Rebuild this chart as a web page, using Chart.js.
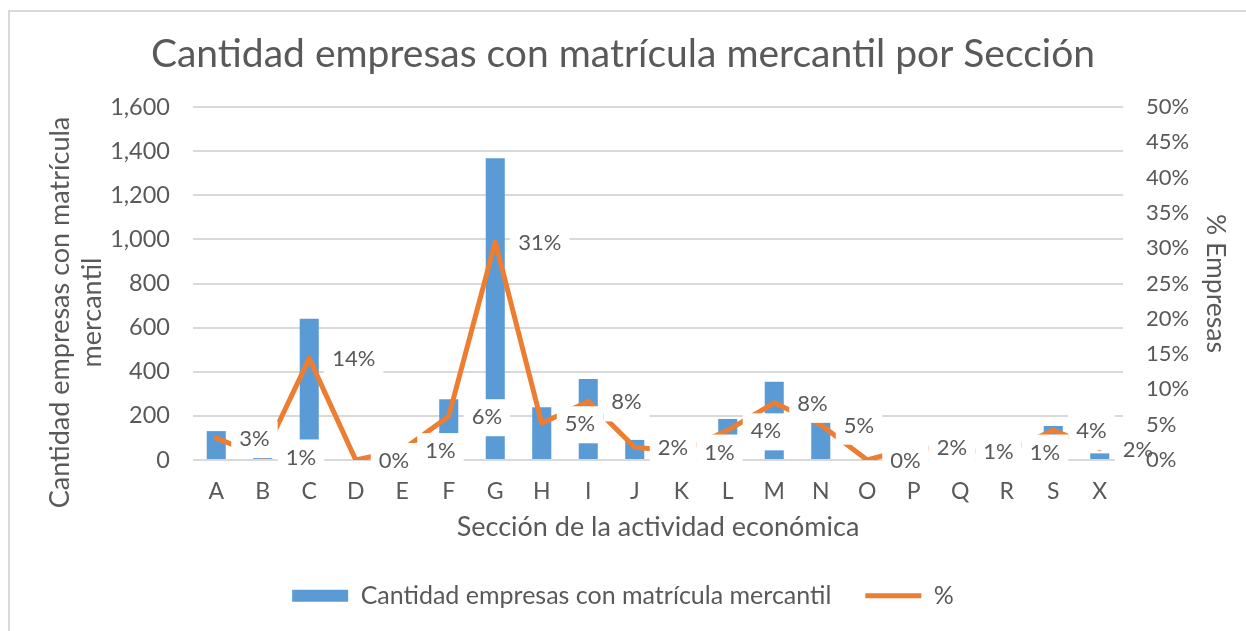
<!DOCTYPE html>
<html>
<head>
<meta charset="utf-8">
<script src="https://cdn.jsdelivr.net/npm/chart.js@4.4.1/dist/chart.umd.min.js"></script>
<style>
    body { margin: 0; background: #fff; }
    #wrap { position: relative; width: 1246px; height: 631px; overflow: hidden; }
    #frame { position: absolute; left: 8px; top: 10px; width: 1300px; height: 700px; border-left: 2px solid #d9d9d9; border-top: 2px solid #d9d9d9; }
    #seccion { position: absolute; left: 0; top: 0; }
</style>
</head>
<body>
<div id="wrap">
    <div id="frame"></div>
    <canvas id="seccion" width="1246" height="631"></canvas>
</div>
<script>
const categorias = ['A', 'B', 'C', 'D', 'E', 'F', 'G', 'H', 'I', 'J', 'K', 'L', 'M', 'N', 'O', 'P', 'Q', 'R', 'S', 'X'];
const empresas = [131, 12, 640, 0, 60, 275, 1368, 239, 367, 91, 50, 186, 355, 174, 0, 70, 55, 50, 154, 30];
const porcentaje = [3.1, 0.5, 14.4, 0, 1.4, 6.2, 30.9, 5.2, 8.3, 1.8, 1.2, 4.2, 8.1, 5.0, 0, 1.8, 1.3, 1.2, 4.2, 1.6];

const fuente = 'Lato';
const gris = '#595959';

// etiquetas de % con fondo blanco, a la derecha de cada punto
const etiquetas = {
    id: 'etiquetas',
    afterLayout(chart) {
        // el titulo del eje izquierdo va algo mas abajo que el centro del area
        const s = chart.scales.y;
        if (s._tituloMovido) return;
        const original = s.drawTitle;
        s.drawTitle = function () {
            this.ctx.save();
            this.ctx.translate(0, 29);
            original.call(this);
            this.ctx.restore();
        };
        s._tituloMovido = true;
    },
    afterDatasetsDraw(chart) {
        const ctx = chart.ctx;
        const area = chart.chartArea;
        const meta = chart.getDatasetMeta(1);
        ctx.save();
        ctx.font = '22px ' + fuente;
        ctx.textBaseline = 'middle';
        meta.data.forEach((pt, i) => {
            const txt = Math.round(porcentaje[i]) + '%';
            const w = ctx.measureText(txt).width;
            const x = pt.x + 23;
            const y = pt.y + 1;
            const x0 = x - 8;
            const x1 = Math.min(x + w + 8, area.right);
            ctx.fillStyle = '#fff';
            ctx.fillRect(x0, y - 18, x1 - x0, 37);
            ctx.fillStyle = gris;
            ctx.fillText(txt, x, y);
        });
        ctx.restore();
    }
};

new Chart(document.getElementById('seccion'), {
    data: {
        labels: categorias,
        datasets: [{
                type: 'bar',
                label: 'Cantidad empresas con matrícula mercantil',
                data: empresas,
                backgroundColor: '#5b9bd5',
                borderWidth: 0,
                barPercentage: 0.41,
                categoryPercentage: 1,
                pointStyle: 'rect',
                yAxisID: 'y',
                order: 1
            },
            {
                type: 'line',
                label: '%',
                data: porcentaje,
                borderColor: '#ed7d31',
                backgroundColor: '#ed7d31',
                borderWidth: 5,
                borderJoinStyle: 'round',
                borderCapStyle: 'round',
                pointRadius: 0,
                pointStyle: 'line',
                tension: 0,
                yAxisID: 'y1',
                order: 0
            }
        ]
    },
    options: {
        responsive: false,
        animation: false,
        devicePixelRatio: 1,
        layout: {
            padding: { left: 0, right: 0, top: 0, bottom: 12.8 }
        },
        plugins: {
            title: {
                display: true,
                text: 'Cantidad empresas con matrícula mercantil por Sección',
                color: gris,
                font: { family: fuente, size: 39, weight: 'normal' },
                padding: { top: 31, bottom: 29.2 }
            },
            legend: {
                position: 'bottom',
                labels: {
                    usePointStyle: true,
                    pointStyleWidth: 56,
                    boxHeight: 12,
                    padding: 34,
                    color: gris,
                    font: { family: fuente, size: 25 },
                    sort: (a, b) => a.datasetIndex - b.datasetIndex
                }
            },
            tooltip: { enabled: false }
        },
        scales: {
            x: {
                grid: { display: false, drawTicks: false },
                border: { display: false },
                ticks: { color: gris, padding: 18, font: { family: fuente, size: 23 } },
                title: {
                    display: true,
                    text: 'Sección de la actividad económica',
                    color: gris,
                    font: { family: fuente, size: 27 },
                    padding: { top: 0, bottom: 6 }
                },
                afterFit: s => { s.height = 89.2; }
            },
            y: {
                position: 'left',
                min: 0,
                max: 1600,
                ticks: {
                    stepSize: 200,
                    padding: 23,
                    color: gris,
                    font: { family: fuente, size: 23.5 },
                    callback: v => v.toLocaleString('en-US')
                },
                grid: { color: '#d9d9d9', lineWidth: 2, drawTicks: false },
                border: { display: false },
                title: {
                    display: true,
                    text: ['Cantidad empresas con matrícula', 'mercantil'],
                    color: gris,
                    font: { family: fuente, size: 27, lineHeight: 1.2 },
                    padding: { top: 44, bottom: 0 }
                },
                afterFit: s => { s.width = 193; }
            },
            y1: {
                position: 'right',
                min: 0,
                max: 50,
                ticks: {
                    stepSize: 5,
                    padding: 23,
                    color: gris,
                    font: { family: fuente, size: 22 },
                    callback: v => v + '%'
                },
                grid: { display: false, drawTicks: false },
                border: { display: false },
                title: {
                    display: true,
                    text: '% Empresas',
                    color: gris,
                    font: { family: fuente, size: 26.5, lineHeight: 1.2 },
                    padding: { top: 15, bottom: 0 }
                },
                afterFit: s => { s.width = 123; }
            }
        }
    },
    plugins: [etiquetas]
});
</script>
</body>
</html>
